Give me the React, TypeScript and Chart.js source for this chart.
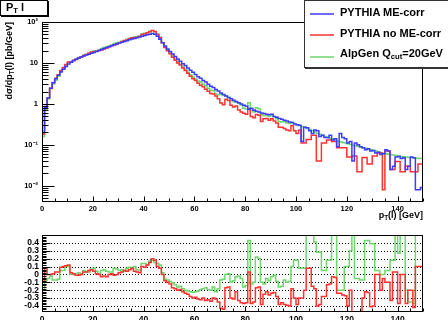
import React, { useEffect, useRef } from "react";
import { Chart, registerables } from "chart.js";

Chart.register(...registerables);

// ---------------- data ----------------
const PT_MIN = 0;
const PT_MAX = 150;
const BIN_WIDTH = 1;

const X_LABEL_VALUES = [0, 20, 40, 60, 80, 100, 120, 140];
const LOG_LABEL_VALUES = [0.01, 0.1, 1, 10, 100];
const LOG_LABEL_TEXT = ["10\u207B\u00B2", "10\u207B\u00B9", "1", "10", "10\u00B2"];
const RATIO_LABEL_VALUES = [-0.4, -0.3, -0.2, -0.1, 0, 0.1, 0.2, 0.3, 0.4];
const RATIO_LABEL_TEXT = ["-0.4", "-0.3", "-0.2", "-0.1", "0", "0.1", "0.2", "0.3", "0.4"];

const Y_MIN = 0.004;
const Y_MAX = 100;
const RATIO_MIN = -0.475;
const RATIO_MAX = 0.5;

// PYTHIA ME-corr  (dsigma/dpT per 1 GeV bin, 0..150 GeV)
const ME_CORR = [
  0.2, 0.8, 1.4, 2.4, 3.3, 4.1, 5.0, 6.0, 7.0, 8.2,
  9.4, 10.4, 11.4, 12.3, 13.2, 14.0, 14.8, 15.6, 16.4, 17.2,
  18.1, 19.1, 20.2, 21.3, 22.5, 23.7, 25.0, 26.3, 27.7, 29.1,
  30.5, 32.0, 33.5, 35.0, 36.6, 38.2, 39.8, 41.5, 43.2, 45.0,
  46.8, 48.5, 50.5, 52.0, 50.0, 45.0, 38.0, 31.0, 26.0, 22.0,
  19.0, 16.5, 14.3, 12.5, 11.0, 9.6, 8.6, 7.5, 6.6, 5.9,
  5.2, 4.6, 4.2, 3.7, 3.4, 3.0, 2.7, 2.5, 2.25, 2.05,
  1.85, 1.7, 1.55, 1.43, 1.33, 1.22, 1.14, 1.06, 0.99, 0.93,
  0.87, 0.74, 0.78, 0.70, 0.66, 0.63, 0.60, 0.58, 0.56, 0.54,
  0.56, 0.49, 0.47, 0.44, 0.42, 0.40, 0.38, 0.36, 0.35, 0.32,
  0.31, 0.30, 0.12, 0.27, 0.26, 0.22, 0.19, 0.23, 0.22, 0.16,
  0.17, 0.15, 0.15, 0.17, 0.13, 0.14, 0.09, 0.19, 0.15, 0.14,
  0.11, 0.12, 0.04, 0.11, 0.10, 0.09, 0.085, 0.076, 0.08, 0.07,
  0.072, 0.063, 0.066, 0.058, 0.06, 0.076, 0.07, 0.025, 0.03, 0.05,
  0.052, 0.046, 0.048, 0.025, 0.03, 0.05, 0.048, 0.008, 0.008, 0.009,
];

// PYTHIA no ME-corr
const NO_ME_CORR = [
  0.18, 0.86, 1.4, 2.4, 3.33, 4.2, 5.15, 6.5, 7.7, 9.1,
  10.5, 10.6, 11.5, 12.2, 13.1, 14.0, 15.2, 16.1, 17.2, 18.2,
  18.8, 19.3, 20.2, 20.7, 22.0, 23.0, 25.0, 26.6, 27.4, 29.1,
  31.1, 33.0, 35.2, 36.4, 38.8, 41.3, 41.4, 42.7, 44.1, 49.5,
  51.0, 54.3, 58.1, 62.4, 59.0, 49.5, 41.0, 31.0, 23.9, 19.8,
  16.7, 13.7, 11.7, 10.0, 8.9, 7.5, 6.5, 5.6, 4.75, 4.13,
  3.7, 3.17, 2.86, 2.6, 2.28, 2.04, 1.78, 1.75, 1.55, 1.33,
  1.05, 0.95, 1.29, 1.2, 0.93, 0.84, 0.89, 0.71, 0.63, 0.59,
  0.56, 0.76, 0.49, 0.455, 0.55, 0.53, 0.37, 0.435, 0.44, 0.4,
  0.43, 0.38, 0.34, 0.27, 0.27, 0.25, 0.23, 0.22, 0.29, 0.22,
  0.19, 0.23, 0.11, 0.11, 0.135, 0.135, 0.17, 0.17, 0.04, 0.04,
  0.11, 0.11, 0.13, 0.13, 0.12, 0.12, 0.085, 0.085, 0.085, 0.085,
  0.05, 0.05, 0.053, 0.053, 0.022, 0.022, 0.049, 0.049, 0.034, 0.034,
  0.053, 0.053, 0.063, 0.063, 0.008, 0.07, 0.07, 0.025, 0.025, 0.039,
  0.039, 0.022, 0.022, 0.03, 0.03, 0.022, 0.022, 0.022, 0.034, 0.034,
];

// AlpGen Q_cut = 20 GeV
const ALPGEN = [
  0.16, 0.74, 1.33, 2.35, 3.07, 3.8, 4.7, 6.3, 7.35, 9.0,
  10.3, 10.4, 11.4, 12.4, 13.5, 14.1, 15.5, 16.1, 16.9, 18.4,
  19.5, 19.9, 20.4, 22.4, 23.9, 24.6, 25.8, 27.1, 29.9, 31.1,
  32.0, 33.9, 34.8, 37.8, 39.9, 41.3, 43.8, 44.0, 45.4, 51.3,
  53.4, 54.3, 59.1, 61.4, 57.5, 51.3, 42.6, 31.6, 24.4, 20.5,
  17.3, 14.7, 12.4, 10.5, 9.35, 7.9, 6.9, 5.9, 5.15, 4.5,
  4.05, 3.6, 3.4, 3.0, 2.8, 2.4, 2.15, 2.1, 1.75, 1.68,
  1.72, 1.6, 1.55, 1.44, 1.2, 1.12, 1.1, 1.04, 0.94, 0.78,
  0.75, 1.06, 0.69, 0.63, 0.8, 0.76, 0.54, 0.51, 0.53, 0.5,
  0.54, 0.485, 0.43, 0.37, 0.36, 0.37, 0.34, 0.33, 0.35, 0.33,
  0.31, 0.29, 0.28, 0.27, 0.25, 0.235, 0.22, 0.205, 0.19, 0.18,
  0.17, 0.16, 0.15, 0.143, 0.136, 0.13, 0.124, 0.118, 0.113, 0.11,
  0.106, 0.102, 0.098, 0.095, 0.092, 0.088, 0.085, 0.082, 0.079, 0.076,
  0.073, 0.07, 0.067, 0.064, 0.062, 0.06, 0.059, 0.057, 0.056, 0.055,
  0.053, 0.052, 0.051, 0.05, 0.049, 0.049, 0.048, 0.047, 0.046, 0.046,
];

// relative difference to PYTHIA ME-corr (lower pad)
const RATIO_NO_ME = [
  -0.09, 0.08, 0.0, 0.0, 0.01, 0.03, 0.03, 0.09, 0.1, 0.11,
  0.12, 0.02, 0.01, -0.01, -0.01, 0.0, 0.03, 0.03, 0.05, 0.06,
  0.04, 0.01, 0.0, -0.03, -0.02, -0.03, 0.0, 0.01, -0.01, 0.0,
  0.02, 0.03, 0.05, 0.04, 0.06, 0.08, 0.04, 0.03, 0.02, 0.1,
  0.09, 0.12, 0.15, 0.2, 0.18, 0.1, 0.08, 0.0, -0.08, -0.1,
  -0.12, -0.17, -0.18, -0.2, -0.19, -0.22, -0.24, -0.25, -0.28, -0.3,
  -0.29, -0.31, -0.32, -0.3, -0.33, -0.32, -0.34, -0.3, -0.31, -0.35,
  -0.43, -0.44, -0.17, -0.16, -0.3, -0.31, -0.22, -0.33, -0.36, -0.37,
  -0.36, 0.03, -0.37, -0.35, -0.17, -0.16, -0.38, -0.25, -0.22, -0.26,
  -0.24, -0.23, -0.28, -0.38, -0.36, -0.38, -0.39, -0.4, -0.18, -0.3,
  -0.38, -0.3, -0.3, -0.2, 0.08, 0.08, -0.15, -0.18, -0.4, -0.38,
  -0.28, -0.28, -0.13, -0.12, -0.03, -0.04, -0.24, -0.24, -0.26, -0.27,
  -0.4, -0.2, -0.5, -0.5, -0.5, -0.5, -0.3, -0.22, -0.23, -0.41,
  -0.4, 0.0, 0.0, -0.2, -0.05, -0.1, -0.1, -0.33, 0.03, 0.03,
  -0.37, 0.0, 0.0, -0.37, -0.2, -0.2, -0.42, 0.1, 0.1, 0.1,
];

const RATIO_ALPGEN = [
  -0.2, -0.08, -0.05, -0.02, -0.07, -0.07, -0.06, 0.05, 0.05, 0.1,
  0.1, 0.0, 0.0, 0.01, 0.02, 0.01, 0.05, 0.03, 0.03, 0.07,
  0.08, 0.04, 0.01, 0.05, 0.06, 0.04, 0.03, 0.03, 0.08, 0.07,
  0.05, 0.06, 0.04, 0.08, 0.09, 0.08, 0.1, 0.06, 0.05, 0.14,
  0.14, 0.12, 0.17, 0.18, 0.15, 0.14, 0.12, 0.02, -0.06, -0.07,
  -0.09, -0.11, -0.13, -0.16, -0.15, -0.18, -0.2, -0.21, -0.22, -0.23,
  -0.22, -0.21, -0.19, -0.18, -0.17, -0.19, -0.2, -0.16, -0.22, -0.18,
  -0.07, -0.06, 0.0, 0.01, -0.1, -0.08, -0.03, -0.02, -0.05, -0.16,
  -0.14, 0.43, -0.12, -0.1, 0.22, 0.2, -0.1, -0.12, -0.05, -0.08,
  -0.03, -0.01, -0.09, -0.16, -0.15, -0.07, -0.1, -0.09, 0.1, 0.18,
  0.18, 0.08, 0.08, 0.08, 0.5, 0.5, 0.5, 0.41, 0.28, 0.28,
  0.05, 0.05, 0.18, 0.18, 0.5, 0.5, -0.2, -0.2, -0.2, 0.1,
  0.1, 0.3, 0.5, -0.05, -0.05, -0.07, -0.07, 0.43, 0.43, 0.39,
  0.39, 0.05, 0.05, 0.0, 0.0, 0.05, 0.05, 0.18, 0.18, 0.5,
  0.27, 0.5, 0.5, -0.2, -0.35, -0.35, -0.37, 0.5, 0.5, 0.5,
];

// ---------------- styling ----------------
const FONT = "'Liberation Sans', Arial, Helvetica, sans-serif";
const BLUE = "rgb(60,60,255)";
const RED = "rgb(255,50,50)";
const GREEN = "rgb(110,215,110)";
const LINE_W = 1.5;

type TickSpec = { v: number; len: number };

function histPoints(values: number[]) {
  const pts = values.map((v, i) => ({ x: PT_MIN + i * BIN_WIDTH, y: v }));
  pts.push({ x: PT_MIN + values.length * BIN_WIDTH, y: values[values.length - 1] });
  return pts;
}

function xTickSpecs(major: number, minor: number): TickSpec[] {
  const out: TickSpec[] = [];
  for (let v = PT_MIN; v <= PT_MAX; v += 5) out.push({ v, len: v % 20 === 0 ? major : minor });
  return out;
}

function logTickSpecs(): TickSpec[] {
  const out: TickSpec[] = [];
  for (let e = -3; e <= 2; e++) {
    for (let k = 1; k <= 9; k++) {
      const v = k * Math.pow(10, e);
      if (v >= Y_MIN && v <= Y_MAX * 1.0001) out.push({ v, len: k === 1 ? 12 : 6 });
    }
  }
  return out;
}

function ratioTickSpecs(): TickSpec[] {
  const out: TickSpec[] = [];
  for (let i = -23; i <= 25; i++) out.push({ v: i * 0.02, len: i % 5 === 0 ? 8 : 4 });
  return out;
}

function framePlugin(xTicks: TickSpec[], yTicks: TickSpec[], grid: number[]) {
  return {
    id: "rootFrame",
    beforeDatasetsDraw(chart: any) {
      if (!grid.length) return;
      const { ctx, chartArea: a } = chart;
      const ys = chart.scales.y;
      ctx.save();
      ctx.strokeStyle = "#000";
      ctx.lineWidth = 1;
      ctx.setLineDash([1, 2]);
      for (const g of grid) {
        const y = Math.round(ys.getPixelForValue(g)) + 0.5;
        ctx.beginPath();
        ctx.moveTo(a.left, y);
        ctx.lineTo(a.right, y);
        ctx.stroke();
      }
      ctx.restore();
    },
    afterDatasetsDraw(chart: any) {
      const { ctx, chartArea: a } = chart;
      const xs = chart.scales.x;
      const ys = chart.scales.y;
      ctx.save();
      ctx.strokeStyle = "#000";
      ctx.lineWidth = 1;
      const L = Math.round(a.left) + 0.5;
      const R = Math.round(a.right) - 0.5;
      const T = Math.round(a.top) + 0.5;
      const B = Math.round(a.bottom) - 0.5;
      ctx.strokeRect(L, T, R - L, B - T);
      ctx.beginPath();
      for (const t of xTicks) {
        const x = Math.round(xs.getPixelForValue(t.v)) + 0.5;
        ctx.moveTo(x, B);
        ctx.lineTo(x, B - t.len);
      }
      for (const t of yTicks) {
        const y = Math.round(ys.getPixelForValue(t.v)) + 0.5;
        if (y < T - 0.1 || y > B + 0.1) continue;
        ctx.moveTo(L, y);
        ctx.lineTo(L + t.len, y);
      }
      ctx.stroke();
      ctx.restore();
    },
  };
}

function histDataset(values: number[], color: string) {
  return {
    data: histPoints(values),
    borderColor: color,
    backgroundColor: color,
    borderWidth: LINE_W,
    stepped: "before" as const,
    pointRadius: 0,
    fill: false,
    tension: 0,
  };
}

const sub: React.CSSProperties = { fontSize: "70%", position: "relative", top: "0.3em", lineHeight: 0 };

export default function App() {
  const topRef = useRef<HTMLCanvasElement | null>(null);
  const botRef = useRef<HTMLCanvasElement | null>(null);

  useEffect(() => {
    if (!topRef.current || !botRef.current) return;
    const tickFontSmall = { family: FONT, size: 7.5, weight: "bold" as const };
    const tickFontRatio = { family: FONT, size: 8.5, weight: "bold" as const };

    const top = new Chart(topRef.current, {
      type: "line",
      data: {
        datasets: [
          histDataset(ME_CORR, BLUE),
          histDataset(NO_ME_CORR, RED),
          histDataset(ALPGEN, GREEN),
        ] as any,
      },
      options: {
        animation: false,
        responsive: false,
        devicePixelRatio: 1,
        events: [],
        layout: { padding: { top: 22, right: 25, left: 0, bottom: 0 } },
        plugins: { legend: { display: false }, tooltip: { enabled: false } },
        scales: {
          x: {
            type: "linear",
            min: PT_MIN,
            max: PT_MAX,
            bounds: "data",
            grid: { display: false, drawTicks: false },
            border: { display: false },
            afterBuildTicks: (s: any) => {
              s.ticks = X_LABEL_VALUES.map((v) => ({ value: v }));
            },
            afterFit: (s: any) => {
              s.height = 20;
            },
            ticks: {
              color: "#000",
              font: tickFontSmall,
              padding: 2,
              maxRotation: 0,
              autoSkip: false,
              callback: (_v: any, i: number) => String(X_LABEL_VALUES[i]),
            },
          },
          y: {
            type: "logarithmic",
            min: Y_MIN,
            max: Y_MAX,
            bounds: "data",
            grid: { display: false, drawTicks: false },
            border: { display: false },
            afterBuildTicks: (s: any) => {
              s.ticks = LOG_LABEL_VALUES.map((v) => ({ value: v, major: true }));
            },
            afterFit: (s: any) => {
              s.width = 42;
            },
            ticks: {
              color: "#000",
              font: tickFontSmall,
              padding: 4,
              autoSkip: false,
              callback: (_v: any, i: number) => LOG_LABEL_TEXT[i],
            },
          },
        } as any,
      },
      plugins: [framePlugin(xTickSpecs(5, 3), logTickSpecs(), [])],
    });

    const bot = new Chart(botRef.current, {
      type: "line",
      data: {
        datasets: [histDataset(RATIO_NO_ME, RED), histDataset(RATIO_ALPGEN, GREEN)] as any,
      },
      options: {
        animation: false,
        responsive: false,
        devicePixelRatio: 1,
        events: [],
        layout: { padding: { top: 13, right: 25, left: 0, bottom: 0 } },
        plugins: { legend: { display: false }, tooltip: { enabled: false } },
        scales: {
          x: {
            type: "linear",
            min: PT_MIN,
            max: PT_MAX,
            bounds: "data",
            grid: { display: false, drawTicks: false },
            border: { display: false },
            afterBuildTicks: (s: any) => {
              s.ticks = X_LABEL_VALUES.map((v) => ({ value: v }));
            },
            afterFit: (s: any) => {
              s.height = 8;
            },
            ticks: {
              color: "#000",
              font: tickFontRatio,
              padding: 3,
              maxRotation: 0,
              autoSkip: false,
              callback: (_v: any, i: number) => String(X_LABEL_VALUES[i]),
            },
          },
          y: {
            type: "linear",
            min: RATIO_MIN,
            max: RATIO_MAX,
            bounds: "data",
            grid: { display: false, drawTicks: false },
            border: { display: false },
            afterBuildTicks: (s: any) => {
              s.ticks = RATIO_LABEL_VALUES.map((v) => ({ value: v }));
            },
            afterFit: (s: any) => {
              s.width = 42;
            },
            ticks: {
              color: "#000",
              font: tickFontRatio,
              padding: 3,
              autoSkip: false,
              callback: (_v: any, i: number) => RATIO_LABEL_TEXT[i],
            },
          },
        } as any,
      },
      plugins: [framePlugin(xTickSpecs(5, 3), ratioTickSpecs(), RATIO_LABEL_VALUES)],
    });

    return () => {
      top.destroy();
      bot.destroy();
    };
  }, []);

  const legendRows = [
    { color: BLUE, lineY: 12, textTop: 5, label: <>PYTHIA ME-corr</> },
    { color: RED, lineY: 33, textTop: 26, label: <>PYTHIA no ME-corr</> },
    {
      color: GREEN,
      lineY: 55,
      textTop: 46,
      label: (
        <>
          AlpGen Q<span style={sub}>cut</span>=20GeV
        </>
      ),
    },
  ];

  return (
    <div
      style={{
        position: "fixed",
        left: 0,
        top: 0,
        width: 448,
        height: 320,
        overflow: "hidden",
        background: "#fff",
        fontFamily: FONT,
        color: "#000",
      }}
    >
      <canvas ref={topRef} width={448} height={222} style={{ position: "absolute", left: 0, top: 0 }} />
      <canvas ref={botRef} width={448} height={98} style={{ position: "absolute", left: 0, top: 222 }} />

      {/* pad title box */}
      <div
        style={{
          position: "absolute",
          left: 0,
          top: 0,
          width: 48,
          height: 16,
          boxSizing: "border-box",
          border: "1px solid #000",
          boxShadow: "1px 1px 0 #000",
          background: "#fff",
          fontWeight: "bold",
          fontSize: 11,
          lineHeight: "13px",
          paddingLeft: 5,
          whiteSpace: "nowrap",
        }}
      >
        P<span style={sub}>T</span> l
      </div>

      {/* legend */}
      <div
        style={{
          position: "absolute",
          left: 304,
          top: 0,
          width: 170,
          height: 68,
          boxSizing: "border-box",
          border: "1px solid #333",
          boxShadow: "1px 1px 0 #333",
          background: "#fff",
        }}
      >
        {legendRows.map((r, i) => (
          <React.Fragment key={i}>
            <div
              style={{
                position: "absolute",
                left: 5,
                top: r.lineY,
                width: 24,
                height: 2,
                background: r.color,
                opacity: 0.75,
              }}
            />
            <div
              style={{
                position: "absolute",
                left: 35,
                top: r.textTop,
                fontSize: 11,
                lineHeight: "12px",
                fontWeight: "bold",
                whiteSpace: "nowrap",
              }}
            >
              {r.label}
            </div>
          </React.Fragment>
        ))}
      </div>

      {/* y axis title */}
      <div
        style={{
          position: "absolute",
          left: 4,
          top: 22,
          transformOrigin: "top left",
          transform: "rotate(-90deg) translateX(-100%)",
          fontSize: 9,
          lineHeight: "11px",
          fontWeight: "bold",
          whiteSpace: "nowrap",
        }}
      >
        d&sigma;/dp<span style={sub}>T</span>(l) [pb/GeV]
      </div>

      {/* x axis title */}
      <div
        style={{
          position: "absolute",
          right: 25,
          top: 210,
          fontSize: 9,
          lineHeight: "10px",
          fontWeight: "bold",
          whiteSpace: "nowrap",
        }}
      >
        p<span style={sub}>T</span>(l) [GeV]
      </div>
    </div>
  );
}
